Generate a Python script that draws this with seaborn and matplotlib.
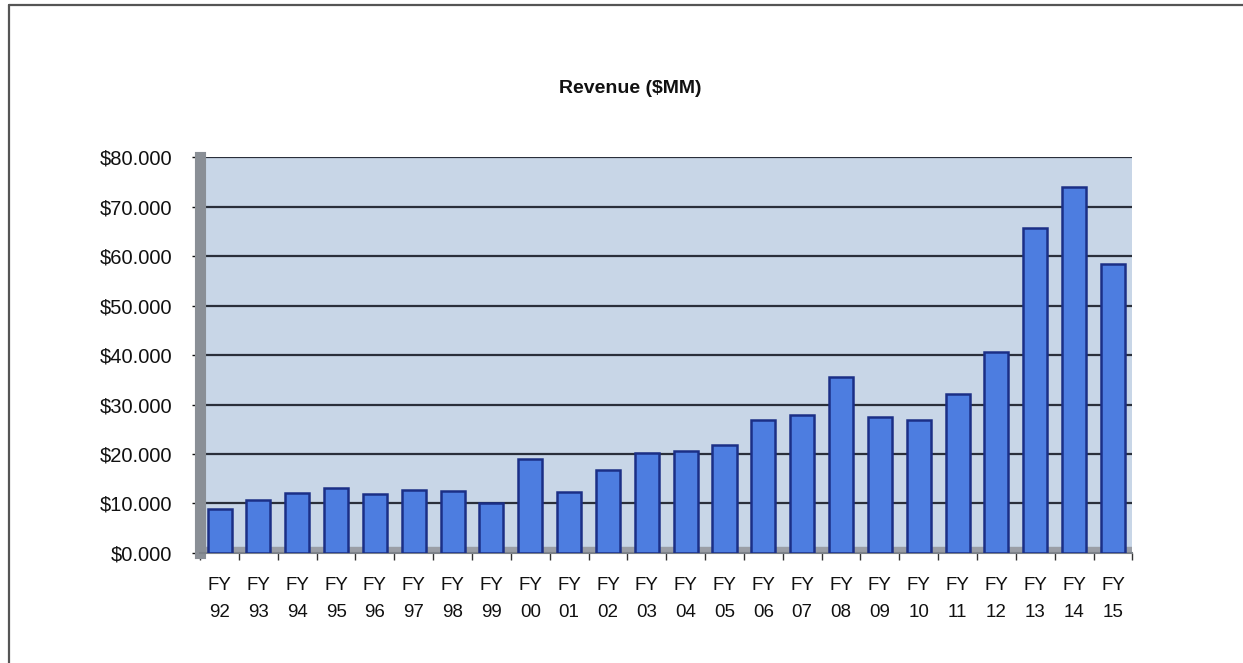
import matplotlib
matplotlib.use("Agg")
import matplotlib.pyplot as plt
import matplotlib.ticker as mticker
from matplotlib.lines import Line2D
import seaborn as sns
import pandas as pd

categories = ["FY\n92", "FY\n93", "FY\n94", "FY\n95", "FY\n96", "FY\n97", "FY\n98", "FY\n99",
              "FY\n00", "FY\n01", "FY\n02", "FY\n03", "FY\n04", "FY\n05", "FY\n06", "FY\n07",
              "FY\n08", "FY\n09", "FY\n10", "FY\n11", "FY\n12", "FY\n13", "FY\n14", "FY\n15"]
revenue = [8.9, 10.6, 12.2, 13.1, 11.9, 12.7, 12.6, 10.1,
           18.9, 12.4, 16.7, 20.3, 20.7, 21.8, 26.8, 27.9,
           35.5, 27.4, 26.8, 32.1, 40.6, 65.6, 74.0, 58.4]
y_ticks = [0, 10, 20, 30, 40, 50, 60, 70, 80]

df = pd.DataFrame({"year": categories, "revenue": revenue})

sns.set_theme(style="white")
plt.rcParams["font.family"] = ["Liberation Sans", "DejaVu Sans"]

fig = plt.figure(figsize=(12.43, 6.63), dpi=100)
fig.patch.set_facecolor("white")

# outer frame (left and top edges only)
fig.lines.append(Line2D([0.007, 0.007], [0.0, 0.992], transform=fig.transFigure,
                        color="#555555", linewidth=1.6))
fig.lines.append(Line2D([0.007, 1.0], [0.992, 0.992], transform=fig.transFigure,
                        color="#555555", linewidth=1.6))

ax = fig.add_axes([0.161, 0.166, 0.75, 0.597])
ax.set_facecolor("#c8d6e7")

sns.barplot(data=df, x="year", y="revenue", ax=ax, color="#4d7de0",
            edgecolor="#1b2f86", linewidth=1.8, width=0.62, saturation=1, zorder=3)

ax.set_ylim(0, 80)
ax.set_xlim(-0.5, len(categories) - 0.5)
ax.set_yticks(y_ticks)
ax.yaxis.set_major_formatter(mticker.FuncFormatter(lambda v, p: f"${v:.3f}"))
ax.grid(axis="y", color="#2a2f3a", linewidth=1.6, zorder=1)
ax.set_axisbelow(True)

# floor strip
ax.axhspan(0, 1.2, color="#9a9ea6", zorder=2)

ax.set_xlabel("")
ax.set_ylabel("")
ax.tick_params(axis="y", labelsize=14.5, colors="#111111", length=6, width=1, left=True, pad=14)
ax.tick_params(axis="x", labelsize=13.5, colors="#111111", length=0, pad=17)
ax.set_xticks(range(len(categories)))
ax.set_xticklabels(categories, linespacing=1.8)
ax.set_xticks([i + 0.5 for i in range(-1, len(categories))], minor=True)
ax.tick_params(axis="x", which="minor", length=5, width=1, color="#333333", bottom=True)

for side in ["top", "right"]:
    ax.spines[side].set_visible(False)
ax.spines["left"].set_color("#8a8f96")
ax.spines["left"].set_linewidth(8)
ax.spines["bottom"].set_color("#7d8289")
ax.spines["bottom"].set_linewidth(1.5)

fig.text(0.507, 0.866, "Revenue ($MM)", ha="center", va="center",
         fontsize=14, fontweight="bold", color="#111111")

fig.savefig("out.png", dpi=100, facecolor="white")
